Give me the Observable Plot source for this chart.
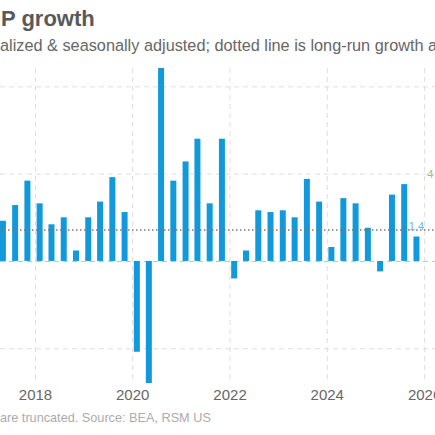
<!DOCTYPE html>
<html>
<head>
<meta charset="utf-8">
<script src="https://cdn.jsdelivr.net/npm/d3@7"></script>
<script src="https://cdn.jsdelivr.net/npm/@observablehq/plot@0.6"></script>
<style>
html, body { margin: 0; padding: 0; background: #fff; width: 435px; height: 435px; overflow: hidden; font-family: "Liberation Sans", Arial, sans-serif; }
.t { position: absolute; white-space: nowrap; line-height: 1; }
#title { left: 1px; top: 8px; font-size: 22px; font-weight: bold; color: #595959; }
#subtitle { left: 0; top: 36.5px; font-size: 16.3px; color: #666; }
#caption { left: 0; top: 412px; font-size: 12.7px; color: #ababab; }
#chart { position: absolute; left: 0; top: 58px; }
</style>
</head>
<body>
<div id="title" class="t">P growth</div>
<div id="subtitle" class="t">alized &amp; seasonally adjusted; dotted line is long-run growth a</div>
<div id="chart"></div>
<div id="caption" class="t">are truncated. Source: BEA, RSM US</div>
<script>
// Quarterly real GDP growth, annualized (%); 2020Q2 and 2020Q3 are truncated in the chart
const quarters = [
  "2017Q2","2017Q3","2017Q4",
  "2018Q1","2018Q2","2018Q3","2018Q4",
  "2019Q1","2019Q2","2019Q3","2019Q4",
  "2020Q1","2020Q2","2020Q3","2020Q4",
  "2021Q1","2021Q2","2021Q3","2021Q4",
  "2022Q1","2022Q2","2022Q3","2022Q4",
  "2023Q1","2023Q2","2023Q3","2023Q4",
  "2024Q1","2024Q2","2024Q3","2024Q4",
  "2025Q1","2025Q2","2025Q3","2025Q4"
];
const growth = [
  2.3, 3.2, 4.6,
  3.3, 2.1, 2.5, 0.6,
  2.5, 3.4, 4.8, 2.8,
  -5.2, -28.0, 34.8, 4.6,
  5.7, 7.0, 3.3, 7.0,
  -1.0, 0.6, 2.9, 2.8,
  2.9, 2.5, 4.7, 3.4,
  0.8, 3.6, 3.3, 1.9,
  -0.6, 3.8, 4.4, 1.4
];
const longRun = [1.8];
const yearTicks = [2018, 2020, 2022, 2024, 2026];
const yGridValues = [-5, 5, 10];
const zeroLine = [0];
const sideLabelText = ["4"];
const sideLabelValue = [5];

const data = quarters.map((q, i) => ({
  date: new Date(Date.UTC(+q.slice(0, 4), (+q.slice(5) - 1) * 3 + 1, 1)),
  value: growth[i]
}));
const yearDates = yearTicks.map(y => new Date(Date.UTC(y, 0, 1)));
const sideLabels = sideLabelText.map((t, i) => ({text: t, value: sideLabelValue[i]}));
const latest = [data[data.length - 1]];

const grid = {stroke: "#dedede", strokeOpacity: 1, strokeDasharray: "5,4", strokeWidth: 1};

const chart = Plot.plot({
  width: 435,
  height: 350,
  marginLeft: 0,
  marginRight: 0,
  marginTop: 10,
  marginBottom: 25,
  style: {fontFamily: "Liberation Sans, Arial, sans-serif", background: "transparent", overflow: "visible"},
  x: {type: "utc", domain: [new Date(Date.UTC(2017, 3, 13)), new Date(Date.UTC(2026, 2, 24))]},
  y: {domain: [-6.99, 11.05], clamp: true, axis: null},
  marks: [
    Plot.gridX(yearDates, grid),
    Plot.gridY(yGridValues, grid),
    Plot.ruleY(zeroLine, {stroke: "#c2c2c2", strokeDasharray: "5,4", strokeWidth: 1}),
    Plot.ruleX(data, {x: "date", y1: 0, y2: "value", stroke: "#1199db", strokeWidth: 6}),
    Plot.ruleY(longRun, {stroke: "#7a7a7a", strokeWidth: 1.5, strokeDasharray: "1.5,2.5"}),
    Plot.text(latest, {x: "date", y: "value", text: d => d.value.toFixed(1), fill: "#72b6e2", fontSize: 11, lineAnchor: "bottom", dy: -7}),
    Plot.text(sideLabels, {y: "value", text: "text", frameAnchor: "right", textAnchor: "start", dx: -8.3, fill: "#93c470", fontSize: 11, lineAnchor: "middle"}),
    Plot.axisX(yearDates, {tickSize: 0, tickPadding: 6, tickFormat: d => String(d.getUTCFullYear()), fontSize: 15, color: "#666", label: null})
  ]
});
document.getElementById("chart").appendChild(chart);
</script>
</body>
</html>
